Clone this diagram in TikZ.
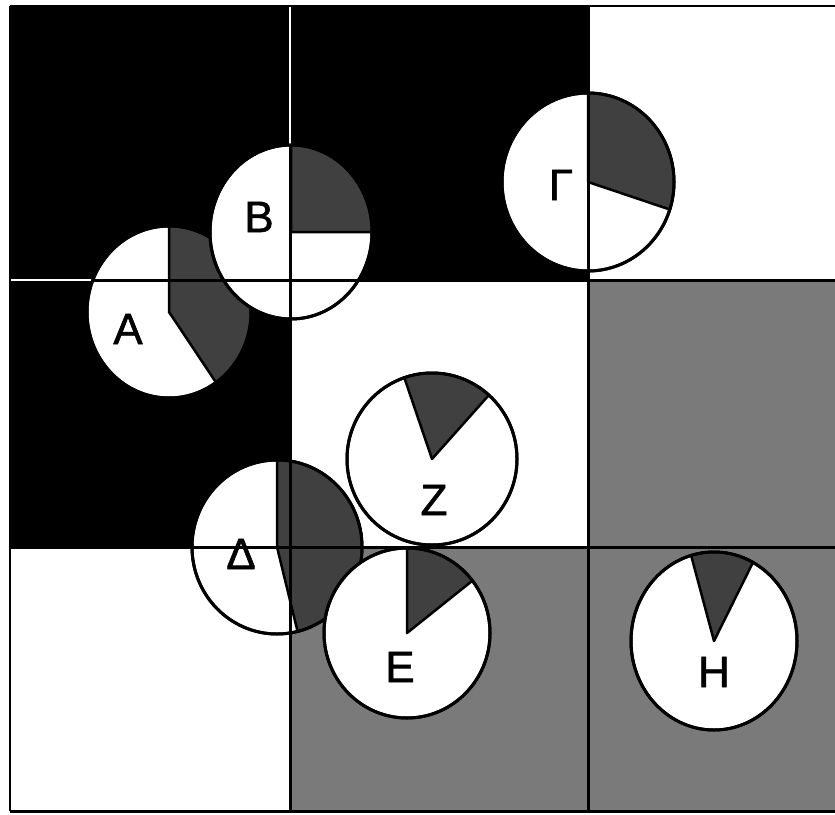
\documentclass[tikz,border=0pt]{standalone}
\usepackage{fontspec}
\setmainfont{Liberation Sans}
\newfontfamily\lblfont[FakeBold=1.3]{Liberation Sans}
\begin{document}
\begin{tikzpicture}[x=1pt,y=-1pt,
  gridline/.style={line width=3pt, black},
  borderline/.style={line width=2pt, black},
  gapline/.style={line width=2pt, white},
  pieout/.style={line width=3pt, black, fill=white},
  wedge/.style={fill=black!75, draw=black, line width=2.5pt, line join=round},
  lbl/.style={inner sep=0pt, font=\lblfont\fontsize{44}{44}\selectfont}]
\useasboundingbox (0,0) rectangle (835,814);
\fill[white] (0,0) rectangle (835,814);
% grid corners
\coordinate (c00) at (10,6);   \coordinate (c10) at (290,6);   \coordinate (c20) at (588,6);   \coordinate (c30) at (836,6);
\coordinate (c01) at (10,280); \coordinate (c11) at (290,280); \coordinate (c21) at (588,280); \coordinate (c31) at (836,280);
\coordinate (c02) at (10,547); \coordinate (c12) at (290,547); \coordinate (c22) at (588,547); \coordinate (c32) at (836,547);
\coordinate (c03) at (10,811); \coordinate (c13) at (290,811); \coordinate (c23) at (588,811); \coordinate (c33) at (836,811);
% cells
\fill[black] (c00) rectangle (c21);
\fill[black] (c01) rectangle (c12);
\fill[black!52] (c21) rectangle (c33);
\fill[black!52] (c12) rectangle (c23);
% white gaps between black cells
\draw[gapline] (c10) -- (c11);
\draw[gapline] (c01) -- (c11);
% pies
\newcommand\mypie[7]{%
  \coordinate (#1) at (#2,#3);
  \draw[pieout] (#1) ellipse [x radius=#4, y radius=#5];
  \draw[wedge] (#1) -- ++(#6:#4 and #5) arc[start angle=#6, end angle=#7, x radius=#4, y radius=#5] -- cycle;
  \draw[line width=3pt] (#1) ellipse [x radius=#4, y radius=#5];
}
\mypie{pA}{169}{312}{82}{86}{-90}{55}
\mypie{pB}{291}{232}{81}{87}{-90}{0}
\mypie{pG}{588}{182}{86}{89}{-90}{18}
\mypie{pD}{277}{547}{85}{87}{-90}{76}
\mypie{pZ}{432}{459}{85}{86}{-109}{-48}
\mypie{pE}{407}{633}{83}{85}{-90}{-38}
\mypie{pH}{714}{641}{83}{89}{-106}{-62}
% labels
\node[lbl] (lA) at (128,329) {Α};
\node[lbl] (lB) at (259,217) {Β};
\node[lbl] (lG) at (561,185) {Γ};
\node[lbl] (lD) at (241,554) {Δ};
\node[lbl] (lZ) at (434,500) {Ζ};
\node[lbl] (lE) at (400,667) {Ε};
\node[lbl] (lH) at (714,672) {Η};
% grid lines on top
\draw[borderline] (c00) -- (c03);
\draw[borderline] (c00) -- (c30);
\draw[gridline] (c03) -- (c33);
\draw[gridline] (c11) -- (c13);
\draw[gridline] (c20) -- (c23);
\draw[gridline] (c11) -- (c31);
\draw[gridline] (c02) -- (c32);
\begin{scope}
  \clip (pA) ellipse [x radius=82, y radius=86];
  \draw[gridline] (c01) -- (c11);
\end{scope}
\begin{scope}
  \clip (pB) ellipse [x radius=81, y radius=87];
  \draw[gridline] (c01) -- (c11);
  \draw[gridline] (c10) -- (c11);
\end{scope}
\end{tikzpicture}
\end{document}
